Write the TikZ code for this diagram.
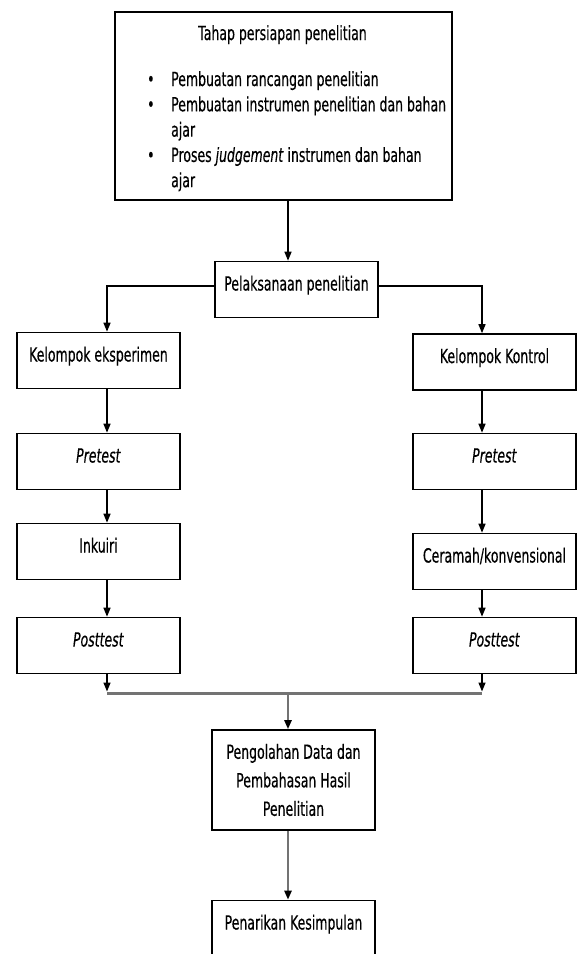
\documentclass[tikz,border=0pt]{standalone}
\usepackage{fontspec}
\setmainfont{DejaVu Sans}[FakeStretch=0.64,FakeBold=0.4,ItalicFont=DejaVu Sans Oblique]
\usetikzlibrary{arrows.meta}
\definecolor{joingray}{gray}{0.45}
\newcommand*{\boxfont}{\fontsize{19.5}{25.3}\selectfont}

\begin{document}
\begin{tikzpicture}
[
	x=1pt,
	y=-1pt,
	box/.style={draw,line width=1.6pt,minimum width=163pt,minimum height=56pt,inner sep=0pt,font=\boxfont,text height=13pt,text depth=11pt},
	arr/.style={line width=1.4pt,-{Triangle[length=9pt,width=7pt]}},
	joinline/.style={joingray,line width=3pt},
	joinarr/.style={joingray,line width=2.6pt,-{Triangle[length=9pt,width=7pt,color=black]}}
]

	\clip (0,0) rectangle (581,954);

	% preparation box
	\node[draw,line width=1.6pt,minimum width=337pt,minimum height=188pt,inner sep=0pt] (prep) at (283.5,106) {};
	\node[anchor=base,font=\boxfont] (title) at (282.5,40) {Tahap persiapan penelitian};
	\node[anchor=base west,inner sep=0pt,font=\boxfont] (steps) at (147,86) {%
		\begin{tabular}[t]{@{}p{24pt}@{}l@{}}
			\textbullet & Pembuatan rancangan penelitian\\
			\textbullet & Pembuatan instrumen penelitian dan bahan\\
			            & ajar\\
			\textbullet & Proses \textit{judgement} instrumen dan bahan\\
			            & ajar
		\end{tabular}};

	% columns
	\coordinate (colL) at (107,693);
	\coordinate (colR) at (482,693);
	\coordinate (mid) at (288,693);

	\node[box] (pel) at (296.5,289.5) {Pelaksanaan penelitian};

	\node[box] (kel1) at (98.5,360.5) {Kelompok eksperimen};
	\node[box] (pre1) at (98.5,461.5) {\textit{Pretest}};
	\node[box] (ink) at (98.5,551.5) {Inkuiri};
	\node[box] (post1) at (98.5,645.5) {\textit{Posttest}};

	\node[box] (kel2) at (494.5,362) {Kelompok Kontrol};
	\node[box] (pre2) at (494.5,461.5) {\textit{Pretest}};
	\node[box] (cer) at (494.5,561.5) {Ceramah/konvensional};
	\node[box] (post2) at (494.5,645.5) {\textit{Posttest}};

	\node[box,minimum height=100pt,align=center,text height={},text depth={},font=\fontsize{19.5}{28.5}\selectfont] (olah) at (293.5,780) {Pengolahan Data dan\\Pembahasan Hasil\\Penelitian};
	\node[box] (tarik) at (293.5,928.5) {Penarikan Kesimpulan};

	% arrows
	\draw[arr] (prep.south -| mid) -- (pel.north -| mid);
	\draw[arr] ([yshift=3.5pt]pel.west) -| (kel1.north -| colL);
	\draw[arr] ([yshift=3.5pt]pel.east) -| (kel2.north -| colR);

	\draw[arr] (kel1.south -| colL) -- (pre1.north -| colL);
	\draw[arr] (pre1.south -| colL) -- (ink.north -| colL);
	\draw[arr] (ink.south -| colL) -- (post1.north -| colL);

	\draw[arr] (kel2.south -| colR) -- (pre2.north -| colR);
	\draw[arr] (pre2.south -| colR) -- (cer.north -| colR);
	\draw[arr] (cer.south -| colR) -- (post2.north -| colR);

	% join
	\draw[joinline] (colL) -- (colR);
	\draw[arr] (post1.south -| colL) -- ([yshift=1.5pt]colL);
	\draw[arr] (post2.south -| colR) -- ([yshift=1.5pt]colR);
	\draw[joinarr] (mid) -- (olah.north -| mid);
	\draw[joinarr] (olah.south -| mid) -- (tarik.north -| mid);

\end{tikzpicture}
\end{document}
